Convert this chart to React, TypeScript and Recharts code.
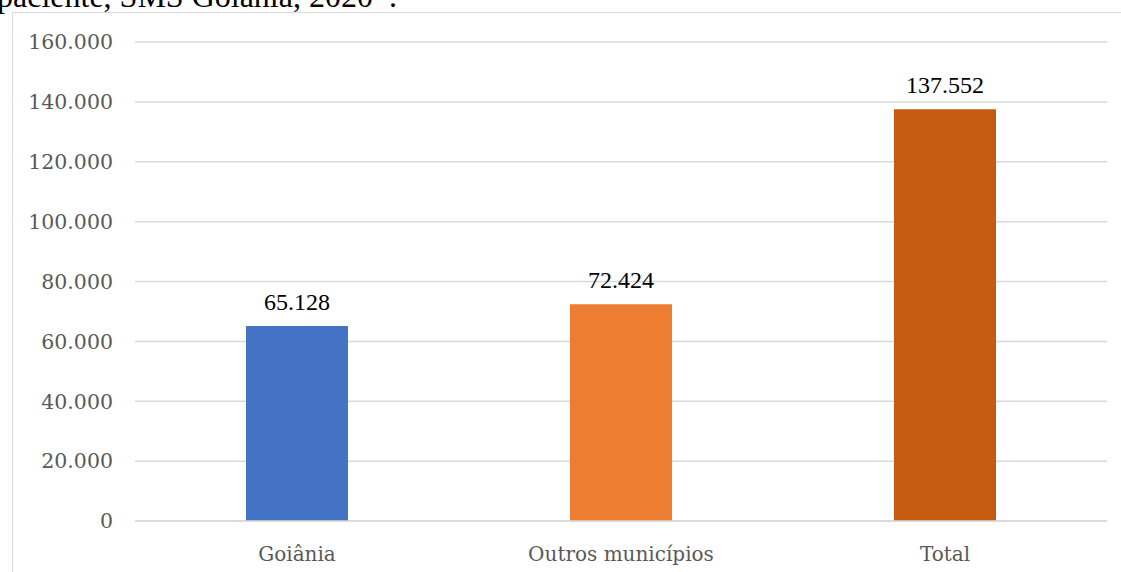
import { BarChart, Bar, XAxis, YAxis, CartesianGrid, Cell, LabelList } from 'recharts';

const categories = ['Goiânia', 'Outros municípios', 'Total'];
const values = [65128, 72424, 137552];
const barColors = ['#4472C4', '#ED7D31', '#C55A11'];
const yTicks = [0, 20000, 40000, 60000, 80000, 100000, 120000, 140000, 160000];

const data = categories.map((name, i) => ({ name, value: values[i] }));

// thousand separator with dots, as in pt-BR
const fmt = (v: number) => String(Math.round(v)).replace(/\B(?=(\d{3})+(?!\d))/g, '.');

const renderValue = (props: any) => {
  const { x, y, width, value } = props;
  return (
    <text
      x={Number(x) + Number(width) / 2}
      y={Number(y) - 16}
      textAnchor="middle"
      fill="#000"
      fontSize={24}
      fontFamily="Liberation Serif, serif"
    >
      {fmt(Number(value))}
    </text>
  );
};

export default function App() {
  return (
    <div
      style={{
        position: 'absolute',
        left: 0,
        top: 0,
        width: 1121,
        height: 572,
        overflow: 'hidden',
        background: '#fff',
      }}
    >
      <div
        style={{
          position: 'absolute',
          left: -3,
          top: -20,
          fontFamily: '"Liberation Serif", serif',
          fontSize: 32,
          lineHeight: '32px',
          color: '#000',
          whiteSpace: 'nowrap',
        }}
      >
        paciente, SMS Goiânia, 2020*.
      </div>
      <div
        style={{
          position: 'absolute',
          left: 12,
          top: 12,
          width: 1130,
          height: 600,
          border: '1px solid #d9d9d9',
          boxSizing: 'border-box',
        }}
      />
      <div style={{ position: 'absolute', left: 0, top: 0 }}>
        <BarChart
          width={1121}
          height={572}
          data={data}
          margin={{ top: 42, right: 14, bottom: 0, left: 0 }}
          barCategoryGap={0}
        >
          <CartesianGrid vertical={false} stroke="#d9d9d9" strokeWidth={1.5} />
          <XAxis
            dataKey="name"
            height={51}
            axisLine={{ stroke: '#d9d9d9', strokeWidth: 1.5 }}
            tickLine={false}
            tickMargin={20}
            tick={{ fill: '#595959', fontSize: 20, fontFamily: '"DejaVu Serif", serif' }}
          />
          <YAxis
            width={135}
            domain={[0, 160000]}
            ticks={yTicks}
            interval={0}
            axisLine={false}
            tickLine={false}
            tickSize={0}
            tickMargin={22}
            tickFormatter={fmt}
            tick={{ fill: '#595959', fontSize: 20.5, fontFamily: '"DejaVu Serif", serif' }}
          />
          <Bar dataKey="value" barSize={102} isAnimationActive={false}>
            {data.map((d, i) => (
              <Cell key={d.name} fill={barColors[i]} />
            ))}
            <LabelList dataKey="value" content={renderValue} />
          </Bar>
        </BarChart>
      </div>
    </div>
  );
}
